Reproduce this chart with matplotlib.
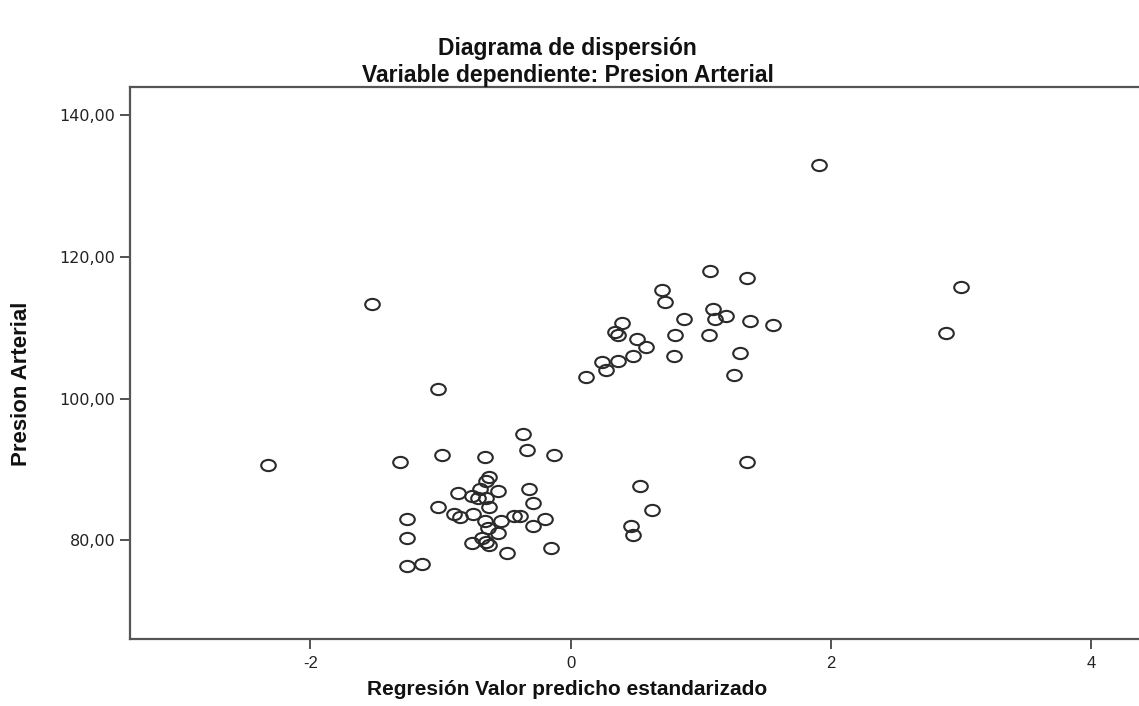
import matplotlib
matplotlib.use("Agg")
import matplotlib.pyplot as plt
from matplotlib.path import Path
from matplotlib.transforms import Affine2D

# Standardized predicted value (x) vs. blood pressure (y)
pred_std = [
    -0.37, -0.34, -0.13, -0.99, -0.66, -1.31, -0.63, -0.65, -0.70, -0.56,
    -0.87, -0.32, -0.76, -0.71, -0.65, -0.29, -1.02, -0.63, -0.90, -0.85,
    -0.75, -1.26, -0.66, -0.54, -0.44, -0.39, -0.20, -0.29, -0.64, -0.56,
    -1.26, -0.68, -0.76, -0.65, -0.63, -0.49, -0.15, -1.26, -1.14,
    0.53, 0.62, 0.46, 0.48,
    1.07, 1.35, 0.70, 0.72, 1.09, 0.87, 1.11, 1.19, 1.38, 0.39,
    0.34, 0.36, 0.80, 1.06, 0.51, 0.58, 0.48, 0.79, 1.30, 0.24,
    0.27, 0.36, 0.12, 1.25, 1.55, 1.91, 3.00, 2.88, 1.35,
    -2.33, -1.53, -1.02,
]
presion = [
    95.0, 92.7, 92.0, 92.0, 91.7, 91.0, 89.0, 88.4, 87.3, 87.0,
    86.7, 87.3, 86.3, 86.0, 86.0, 85.3, 84.7, 84.7, 83.7, 83.3,
    83.7, 83.0, 82.7, 82.7, 83.4, 83.4, 83.0, 82.0, 81.7, 81.0,
    80.4, 80.4, 79.7, 79.8, 79.3, 78.3, 79.0, 76.4, 76.7,
    87.7, 84.3, 82.0, 80.7,
    118.0, 117.0, 115.3, 113.6, 112.7, 111.3, 111.3, 111.7, 111.0, 110.7,
    109.4, 109.0, 109.0, 109.0, 108.4, 107.3, 106.0, 106.0, 106.4, 105.1,
    104.0, 105.3, 103.0, 103.3, 110.4, 133.0, 115.7, 109.3, 91.0,
    90.7, 113.4, 101.4,
]

y_ticks = [80, 100, 120, 140]
y_tick_labels = ["80,00", "100,00", "120,00", "140,00"]
x_ticks = [-2, 0, 2, 4]
x_tick_labels = ["-2", "0", "2", "4"]

# slightly wide open circle marker
ellipse = Path.unit_circle().transformed(Affine2D().scale(1.3, 1.0))

fig = plt.figure(figsize=(11.39, 7.06), dpi=100)
ax = fig.add_axes([0.1141, 0.0949, 0.891, 0.7819])

ax.plot(pred_std, presion, linestyle="none", marker=ellipse, markersize=10.5,
        markerfacecolor="none", markeredgecolor="#2a2a2a", markeredgewidth=1.5)

ax.set_xlim(-3.387, 4.41)
ax.set_ylim(66.1, 143.96)

ax.set_xticks(x_ticks)
ax.set_xticklabels(x_tick_labels, family="Liberation Sans", fontsize=12, color="#222222")
ax.set_yticks(y_ticks)
ax.set_yticklabels(y_tick_labels, family="DejaVu Sans", fontsize=11.5, color="#222222")
ax.tick_params(direction="out", length=7, width=1.3, color="#444444")
ax.tick_params(axis="x", pad=5)

for side in ["left", "top", "bottom"]:
    ax.spines[side].set_color("#555555")
    ax.spines[side].set_linewidth(1.6)
ax.spines["right"].set_visible(False)

head = dict(family="Liberation Sans", fontweight="bold",
            color="#111111", ha="center", va="center")
fig.text(0.4982, 0.931, "Diagrama de dispersión", fontsize=16.5, **head)
fig.text(0.4982, 0.893, "Variable dependiente: Presion Arterial", fontsize=16.5, **head)
fig.text(0.4982, 0.023, "Regresión Valor predicho estandarizado", fontsize=15, **head)
fig.text(0.0193, 0.457, "Presion Arterial", fontsize=16, rotation=90, **head)

fig.savefig("out.png", dpi=100)
